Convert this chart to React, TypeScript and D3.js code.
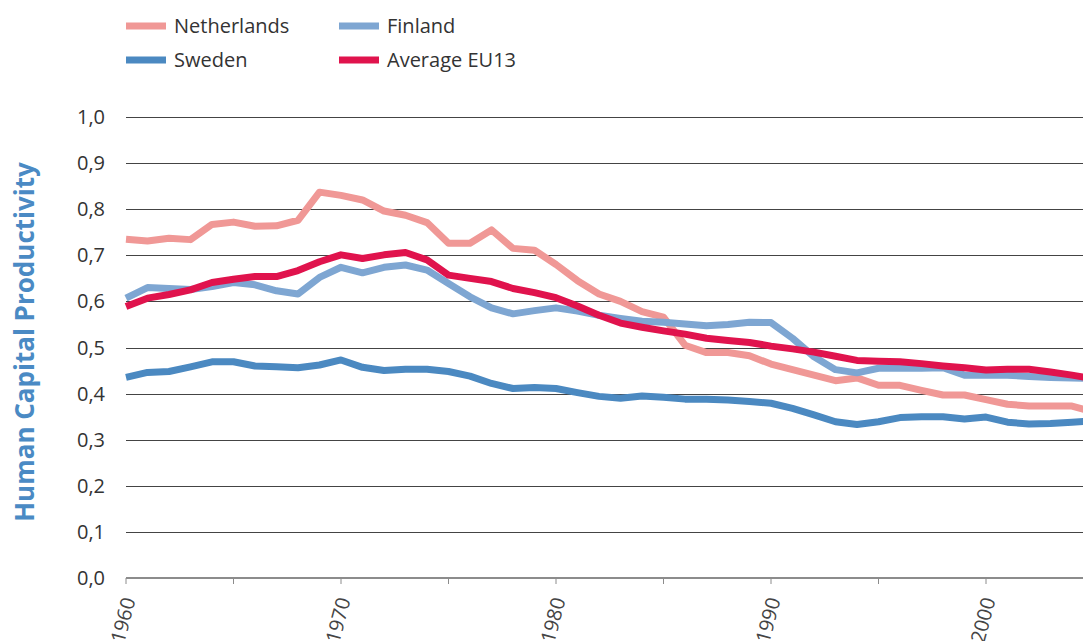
import React from "react";
import * as d3 from "d3";

const years: number[] = d3.range(1960, 2006);

const netherlands = [0.735, 0.731, 0.737, 0.734, 0.767, 0.772, 0.763, 0.764, 0.776, 0.837,
  0.83, 0.82, 0.796, 0.787, 0.771, 0.726, 0.726, 0.755, 0.715, 0.711,
  0.68, 0.645, 0.616, 0.6, 0.578, 0.566, 0.505, 0.489, 0.489, 0.482,
  0.464, 0.452, 0.44, 0.428, 0.434, 0.418, 0.418, 0.407, 0.397, 0.397,
  0.387, 0.377, 0.373, 0.373, 0.373, 0.36];

const finland = [0.607, 0.63, 0.628, 0.626, 0.632, 0.641, 0.636, 0.623, 0.616, 0.652,
  0.674, 0.662, 0.674, 0.679, 0.668, 0.639, 0.61, 0.586, 0.573, 0.58,
  0.586, 0.579, 0.57, 0.563, 0.557, 0.555, 0.551, 0.547, 0.55, 0.555,
  0.554, 0.52, 0.48, 0.452, 0.445, 0.455, 0.455, 0.455, 0.456, 0.44,
  0.44, 0.44, 0.437, 0.435, 0.434, 0.433];

const sweden = [0.435, 0.446, 0.448, 0.458, 0.469, 0.469, 0.46, 0.458, 0.456, 0.462,
  0.473, 0.457, 0.45, 0.453, 0.453, 0.448, 0.438, 0.422, 0.411, 0.413,
  0.411, 0.402, 0.394, 0.39, 0.395, 0.392, 0.388, 0.388, 0.386, 0.383,
  0.379, 0.368, 0.354, 0.339, 0.333, 0.339, 0.348, 0.35, 0.35, 0.345,
  0.349, 0.338, 0.334, 0.335, 0.338, 0.341];

const eu13 = [0.589, 0.607, 0.615, 0.625, 0.641, 0.648, 0.654, 0.654, 0.667, 0.686,
  0.701, 0.693, 0.701, 0.706, 0.69, 0.657, 0.65, 0.643, 0.628, 0.619,
  0.608, 0.59, 0.57, 0.553, 0.544, 0.536, 0.529, 0.52, 0.515, 0.511,
  0.503, 0.497, 0.49, 0.481, 0.472, 0.47, 0.469, 0.465, 0.46, 0.456,
  0.451, 0.453, 0.453, 0.447, 0.44, 0.432];

const seriesNames = ["Netherlands", "Finland", "Sweden", "Average EU13"];
const seriesColors = ["#f09896", "#7ea6d2", "#4b89c1", "#e0134d"];
const seriesValues = [netherlands, finland, sweden, eu13];

const yTicks = [0, 0.1, 0.2, 0.3, 0.4, 0.5, 0.6, 0.7, 0.8, 0.9, 1.0];
const xMinorTicks = d3.range(1960, 2006, 5);
const xLabels = [1960, 1970, 1980, 1990, 2000];

const W = 1083;
const H = 641;

export default function App() {
  const x = d3.scaleLinear().domain([1960, 2000]).range([126, 986]);
  const y = d3.scaleLinear().domain([0, 1]).range([578, 117]);
  const line = d3
    .line<number>()
    .x((_, i) => x(years[i]))
    .y((d) => y(d));
  const fmt = (v: number) => v.toFixed(1).replace(".", ",");

  const legendItems = [
    { i: 0, lx: 126, ly: 26 },
    { i: 1, lx: 339, ly: 26 },
    { i: 2, lx: 126, ly: 60 },
    { i: 3, lx: 339, ly: 60 },
  ];

  return (
    <svg
      width={W}
      height={H}
      style={{ position: "absolute", left: 0, top: 0, background: "#fff" }}
      fontFamily="'Open Sans', 'Noto Sans', sans-serif"
    >
      <defs>
        <clipPath id="plotClip">
          <rect x={0} y={0} width={W} height={H} />
        </clipPath>
      </defs>
      {yTicks.slice(1).map((t) => (
        <line
          key={t}
          x1={126}
          x2={W}
          y1={Math.round(y(t)) + 0.5}
          y2={Math.round(y(t)) + 0.5}
          stroke="#444"
          strokeWidth={1}
        />
      ))}
      {yTicks.map((t) => (
        <text
          key={t}
          x={105}
          y={y(t)}
          dy="0.35em"
          textAnchor="end"
          fontSize={20}
          fill="#333"
        >
          {fmt(t)}
        </text>
      ))}
      <line x1={126} x2={W} y1={578} y2={578} stroke="#8c8c8c" strokeWidth={2} />
      {xMinorTicks.map((t) => (
        <line key={t} x1={x(t)} x2={x(t)} y1={578} y2={584} stroke="#8c8c8c" strokeWidth={1} />
      ))}
      {xLabels.map((t) => (
        <text
          key={t}
          transform={`translate(${x(t) + 3},${598}) rotate(-75)`}
          textAnchor="end"
          dy="0.35em"
          fontSize={20}
          fill="#444"
        >
          {t}
        </text>
      ))}
      <text
        transform={`translate(${34},${342}) rotate(-90)`}
        textAnchor="middle"
        fontSize={26}
        fontWeight="bold"
        fill="#4a8ac4"
      >
        Human Capital Productivity
      </text>
      <g clipPath="url(#plotClip)">
        {seriesValues.map((vals, i) => (
          <path
            key={seriesNames[i]}
            d={line(vals) || ""}
            fill="none"
            stroke={seriesColors[i]}
            strokeWidth={7}
            strokeLinejoin="round"
          />
        ))}
      </g>
      {legendItems.map(({ i, lx, ly }) => (
        <g key={seriesNames[i]}>
          <line x1={lx} x2={lx + 40} y1={ly} y2={ly} stroke={seriesColors[i]} strokeWidth={7} />
          <text x={lx + 48} y={ly} dy="0.35em" fontSize={20} fill="#333">
            {seriesNames[i]}
          </text>
        </g>
      ))}
    </svg>
  );
}
